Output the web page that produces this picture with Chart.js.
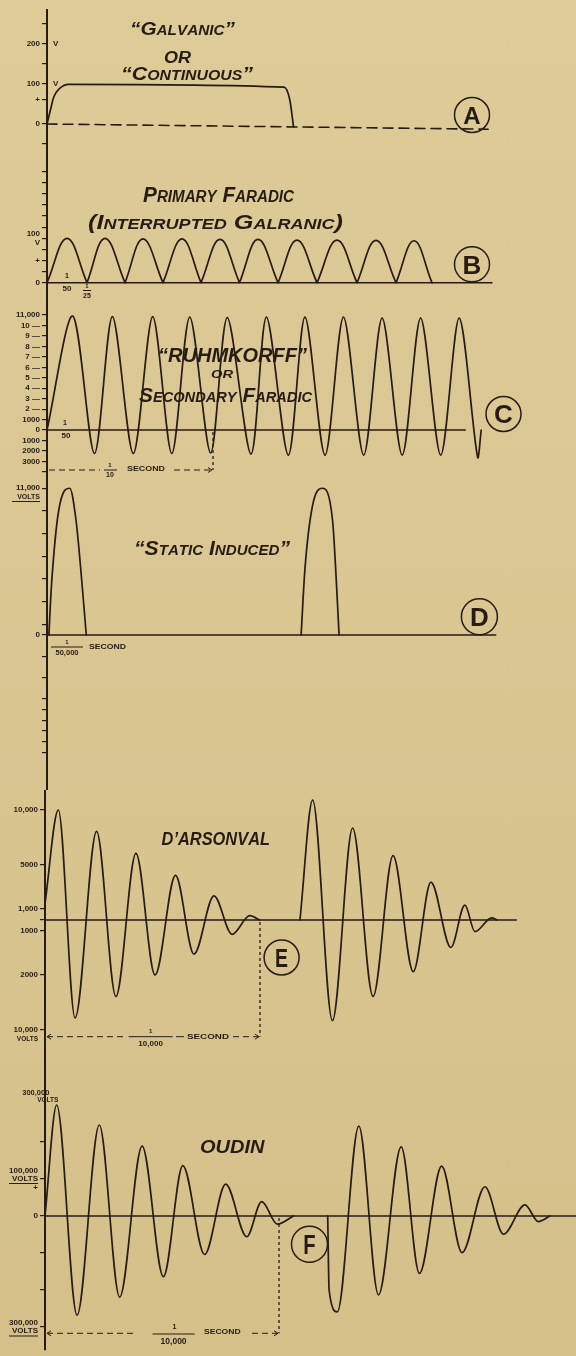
<!DOCTYPE html>
<html>
<head>
<meta charset="utf-8">
<title>Wave forms of medical currents</title>
<script src="https://cdn.jsdelivr.net/npm/chart.js@4.4.1/dist/chart.umd.min.js"></script>
<style>
  html, body { margin: 0; padding: 0; }
  body { background: linear-gradient(#ddcb98, #d5c08a); }
  #sheet { position: relative; width: 576px; height: 1356px; overflow: hidden; }
  #sheet canvas { position: absolute; left: 0; }
</style>
</head>
<body>
<div id="sheet"></div>
<script>
// A - galvanic / continuous current (arbitrary time units, volts)
const galvanicT = [0, 0.65, 1.3, 2.4, 4.1, 44.8, 45.9, 46.6];
const galvanicV = [0, 35, 68, 89, 99, 92, 60, -7];
const galvanicBaseT = [0, 83.4];
const galvanicBaseV = [0, -13];
const galvanicTicks = [-50, 0, 60, 100, 150, 200, 250];
const galvanicLabels = { 0: '0', 60: '+', 100: '100', 200: '200' };

// B - primary faradic, interrupted galvanic (ms, volts)
const faradicZeroT = [0, 40, 78, 116, 154, 192.5, 231, 270, 310, 349, 385];
const faradicPeakT = [20, 58, 96, 135, 173, 211, 250, 290, 329, 367];
const faradicPeakV = [100, 100, 98.5, 98.5, 97.5, 97.5, 96, 96, 95.5, 94.5];
const faradicBaseT = [0, 445];
const faradicTicks = [0, 25, 50, 75, 100, 125, 150, 175, 200, 225, 250];
const faradicLabels = { 0: '0', 50: '+', 100: ['100', 'V'] };

// C - Ruhmkorff coil, secondary faradic (ms, volts)
const ruhmPeakT = [15.5, 39.4, 63.7, 86.0, 108.6, 132.2, 155.4, 178.6, 201.9, 225.1, 248.3];
const ruhmPeakV = [10900, 10850, 10850, 10800, 10750, 10800, 10800, 10800, 10700, 10700, 10700];
const ruhmTroughT = [28.6, 52.0, 75.2, 98.6, 122.9, 145.4, 167.5, 190.8, 214.0, 237.2, 259.4];
const ruhmTroughV = [-2250, -2250, -2250, -2200, -2300, -2400, -2400, -2400, -2400, -2400, -2600];
const ruhmEndT = 261.6;
const ruhmBaseT = [0, 252];
const ruhmTicks = [-4000, -3000, -2000, -1000, 0, 1000, 2000, 3000, 4000, 5000, 6000, 7000, 8000, 9000, 10000, 11000];
const ruhmLabels = {
  11000: '11,000', 10000: '10 \u2014', 9000: '9 \u2014', 8000: '8 \u2014', 7000: '7 \u2014',
  6000: '6 \u2014', 5000: '5 \u2014', 4000: '4 \u2014', 3000: '3 \u2014', 2000: '2 \u2014',
  1000: '1000', 0: '0', '-1000': '1000', '-2000': '2000', '-3000': '3000'
};

// D - static induced (microseconds, volts)
const staticPulse1T = [1.0, 2.35, 6.3, 12.2, 15.5, 18.1, 21.0];
const staticPulse1V = [0, 3620, 9370, 11000, 8620, 4870, 0];
const staticPulse2T = [135.9, 137.9, 141.9, 147.2, 152.7, 154.6, 156.2];
const staticPulse2V = [0, 4870, 9620, 11000, 8620, 4370, 0];
const staticBaseT = [0, 240];
const staticTicks = [11000, 9300, 7600, 5900, 4200, 2500, 800, 0, -1600, -3200, -4800, -5600, -6400, -7200, -8000, -8800];
const staticLabels = { 11000: '11,000', 0: '0' };

// E - d'Arsonval high frequency (microseconds, volts)
const arsonval1T = [0, 6.2, 14.0, 24.0, 33.0, 42.3, 51.2, 60.7, 69.3, 78.6, 87.0, 95.3, 99.8];
const arsonval1V = [1500, 10000, -8900, 8050, -6950, 6050, -5000, 4050, -3100, 2200, -1300, 400, 0];
const arsonval2T = [118.6, 124.5, 133.7, 143.1, 152.6, 161.9, 171.3, 179.5, 188.8, 195.3, 200.0, 207.8, 210.1];
const arsonval2V = [0, 10900, -9150, 8350, -6950, 5850, -4700, 3450, -2500, 1350, -1050, 200, 0];
const arsonvalBaseT = [0, 219.3];
const arsonvalTicks = [10000, 5000, 1000, 0, -1000, -5000, -10000];
const arsonvalLabels = { 10000: '10,000', 5000: '5000', 1000: '1,000', '-1000': '1000', '-5000': '2000', '-10000': '10,000' };

// F - Oudin resonator (microseconds, volts)
const oudin1T = [0, 5.0, 13.7, 23.2, 31.9, 41.5, 50.6, 58.9, 68.2, 77.2, 86.2, 92.6, 99.3, 106.2];
const oudin1V = [0, 300000, -268000, 246000, -219000, 189000, -164000, 136000, -104000, 86000, -56000, 39000, -22000, 0];
const oudin2T = [120.8, 121.4, 124.9, 134.1, 142.5, 152.2, 160.0, 169.5, 178.2, 188.0, 195.9, 205.1, 210.8, 215.8];
const oudin2V = [0, -200000, -259000, 243000, -213000, 187000, -155000, 135000, -99000, 79000, -49000, 30000, -15000, 0];
const oudinBaseT = [0, 227];
const oudinTicks = [200000, 100000, 0, -100000, -200000, -300000];
const oudinLabels = { 100000: ['100,000', 'VOLTS', '+'], 0: '0', '-300000': ['300,000', 'VOLTS'] };

const INK = '#261c15';
const FACE = '"Liberation Sans", Arial, sans-serif';
const sheet = document.getElementById('sheet');

function points(ts, vs) {
  return ts.map((t, i) => ({ x: t, y: vs[i] }));
}

// one arch per pair of zeros; shared zeros are repeated so the joins stay sharp
function arches(zeros, peakT, peakV) {
  const pts = [];
  peakT.forEach((t, i) => {
    pts.push({ x: zeros[i], y: 0 }, { x: t, y: peakV[i] }, { x: zeros[i + 1], y: 0 });
  });
  return pts;
}

function alternate(peakT, peakV, troughT, troughV, endT) {
  const pts = [{ x: 0, y: 0 }];
  peakT.forEach((t, i) => {
    pts.push({ x: t, y: peakV[i] }, { x: troughT[i], y: troughV[i] });
  });
  pts.push({ x: endT, y: 0 });
  return pts;
}

function trace(data, extra) {
  return Object.assign({
    data, borderColor: INK, borderWidth: 1.7, pointRadius: 0, fill: false,
    tension: 0.4, borderJoinStyle: 'round', borderCapStyle: 'round'
  }, extra);
}

function baseline(ts, vs, extra) {
  return trace(points(ts, vs || ts.map(() => 0)), Object.assign({ tension: 0, borderWidth: 1.4 }, extra));
}

// ---- lettering helpers
function drawCaps(ctx, n, y) {
  const parts = [];
  let natural = 0;
  for (const ch of n.text) {
    const lower = ch !== ch.toUpperCase();
    const size = lower ? (n.small || n.size) : n.size;
    ctx.font = `italic bold ${size}px ${FACE}`;
    const w = ctx.measureText(ch.toUpperCase()).width;
    parts.push({ ch: ch.toUpperCase(), size, w });
    natural += w;
  }
  const sx = n.w ? n.w / natural : 1;
  ctx.save();
  ctx.translate(n.x, y);
  ctx.scale(sx, 1);
  ctx.textBaseline = 'alphabetic';
  ctx.textAlign = 'left';
  let cx = 0;
  for (const p of parts) {
    ctx.font = `italic bold ${p.size}px ${FACE}`;
    ctx.fillText(p.ch, cx, 0);
    cx += p.w;
  }
  ctx.restore();
}

function drawText(ctx, n, y) {
  ctx.font = `bold ${n.size}px ${FACE}`;
  const natural = ctx.measureText(n.text).width;
  const sx = n.w ? n.w / natural : 1;
  const width = natural * sx;
  let x0 = n.x;
  if (n.align === 'center') x0 -= width / 2;
  else if (n.align === 'right') x0 -= width;
  ctx.save();
  ctx.translate(x0, y);
  ctx.scale(sx, 1);
  ctx.textBaseline = 'middle';
  ctx.textAlign = 'left';
  ctx.fillText(n.text, 0, 0);
  ctx.restore();
}

function seg(ctx, x0, y0, x1, y1) {
  ctx.beginPath();
  ctx.moveTo(x0, y0);
  ctx.lineTo(x1, y1);
  ctx.stroke();
}

function arrow(ctx, x, y, dir) {
  ctx.setLineDash([]);
  ctx.beginPath();
  ctx.moveTo(x - 4 * dir, y - 2.5);
  ctx.lineTo(x, y);
  ctx.lineTo(x - 4 * dir, y + 2.5);
  ctx.stroke();
}

function notes(items) {
  return {
    id: 'notes',
    afterDraw(chart) {
      const { ctx } = chart;
      const xs = chart.scales.x, ys = chart.scales.y;
      ctx.save();
      ctx.fillStyle = INK;
      ctx.strokeStyle = INK;
      for (const n of items) {
        const y = n.yv !== undefined ? ys.getPixelForValue(n.yv) + (n.dy || 0) : n.y;
        if (n.k === 'caps') {
          drawCaps(ctx, n, y);
        } else if (n.k === 'txt') {
          drawText(ctx, n, y);
        } else if (n.k === 'line') {
          ctx.lineWidth = 1;
          ctx.setLineDash([]);
          seg(ctx, n.x0, y, n.x1, y);
        } else if (n.k === 'dim') {
          const a = xs.getPixelForValue(n.t0) + 2;
          const b = xs.getPixelForValue(n.t1) - 1;
          ctx.lineWidth = 1;
          ctx.setLineDash([6, 4]);
          seg(ctx, a, y, n.cut[0], y);
          seg(ctx, n.cut[1], y, b, y);
          arrow(ctx, b, y, 1);
          if (n.both) arrow(ctx, a, y, -1);
        } else if (n.k === 'drop') {
          const x = xs.getPixelForValue(n.t);
          ctx.lineWidth = 1.3;
          ctx.setLineDash([3, 3]);
          seg(ctx, x, ys.getPixelForValue(0) + 2, x, y);
          ctx.setLineDash([]);
        } else if (n.k === 'ring') {
          ctx.lineWidth = 1.5;
          ctx.setLineDash([]);
          ctx.beginPath();
          ctx.arc(n.x, n.y, n.r, 0, Math.PI * 2);
          ctx.stroke();
          ctx.font = `bold ${n.size}px ${FACE}`;
          const w = ctx.measureText(n.letter).width;
          const sx = n.sx || 1;
          ctx.save();
          ctx.translate(n.x - w * sx / 2, n.y + n.size * 0.36);
          ctx.scale(sx, 1);
          ctx.textBaseline = 'alphabetic';
          ctx.textAlign = 'left';
          ctx.fillText(n.letter, 0, 0);
          ctx.restore();
        }
      }
      ctx.restore();
    }
  };
}

function panel(p) {
  const canvas = document.createElement('canvas');
  canvas.width = 576;
  canvas.height = p.height;
  canvas.style.top = p.top + 'px';
  canvas.style.width = '576px';
  canvas.style.height = p.height + 'px';
  sheet.appendChild(canvas);
  const padTop = p.padTop || 0, padBottom = p.padBottom || 0;
  return new Chart(canvas, {
    type: 'line',
    data: { datasets: p.datasets },
    options: {
      responsive: false,
      animation: false,
      layout: { padding: { top: padTop, bottom: padBottom, left: 0, right: 0 } },
      plugins: { legend: { display: false }, tooltip: { enabled: false } },
      scales: {
        x: { type: 'linear', display: false, min: 0, max: p.xMax },
        y: {
          type: 'linear',
          min: -(p.height - padBottom - p.zero) / p.perUnit,
          max: (p.zero - padTop) / p.perUnit,
          afterFit: s => { s.width = p.left; s.paddingTop = 0; s.paddingBottom = 0; },
          afterBuildTicks: s => { s.ticks = p.ticks.map(v => ({ value: v })); },
          border: { color: INK, width: 2 },
          grid: { drawOnChartArea: false, color: INK, tickLength: 5, lineWidth: 1.2 },
          ticks: {
            autoSkip: false, padding: 2, color: INK,
            font: { family: FACE, size: 8, weight: 'bold', lineHeight: 1.05 },
            callback: v => (p.labels[v] !== undefined ? p.labels[v] : '')
          }
        }
      }
    },
    plugins: [notes(p.notes)]
  });
}

// A
panel({
  top: 0, height: 160, padTop: 10, left: 47, zero: 124, perUnit: 0.4, xMax: 100,
  ticks: galvanicTicks, labels: galvanicLabels,
  datasets: [
    trace(points(galvanicT, galvanicV), { cubicInterpolationMode: 'monotone' }),
    baseline(galvanicBaseT, galvanicBaseV, { borderDash: [10, 6], borderWidth: 1.6 })
  ],
  notes: [
    { k: 'caps', text: '\u201cGalvanic\u201d', x: 130, y: 35, w: 105, size: 19, small: 14 },
    { k: 'caps', text: 'OR', x: 164, y: 62.5, w: 27, size: 16 },
    { k: 'caps', text: '\u201cContinuous\u201d', x: 121, y: 80, w: 132, size: 19, small: 14 },
    { k: 'txt', text: 'V', x: 53, yv: 200, size: 8 },
    { k: 'txt', text: 'V', x: 53, yv: 100, size: 8 },
    { k: 'ring', x: 472, y: 115, r: 17.5, letter: 'A', size: 24 }
  ]
});

// B
panel({
  top: 160, height: 143, left: 47, zero: 122.7, perUnit: 0.444, xMax: 529,
  ticks: faradicTicks, labels: faradicLabels,
  datasets: [
    trace(arches(faradicZeroT, faradicPeakT, faradicPeakV), { tension: 0.4 }),
    baseline(faradicBaseT)
  ],
  notes: [
    { k: 'caps', text: 'Primary Faradic', x: 143, y: 42.3, w: 151, size: 22, small: 16 },
    { k: 'caps', text: '(Interrupted Galranic)', x: 88, y: 69.3, w: 255, size: 21, small: 15 },
    { k: 'txt', text: '1', x: 67, y: 116, size: 7, align: 'center' },
    { k: 'txt', text: '50', x: 67, y: 128.5, size: 8, align: 'center' },
    { k: 'txt', text: '1', x: 87, y: 126.5, size: 6, align: 'center' },
    { k: 'line', x0: 83, x1: 91, y: 130.5 },
    { k: 'txt', text: '25', x: 87, y: 136, size: 7, align: 'center' },
    { k: 'ring', x: 472, y: 104.3, r: 17.5, letter: 'B', size: 26 }
  ]
});

// C
panel({
  top: 303, height: 179, left: 47, zero: 127, perUnit: 0.01045, xMax: 318.7,
  ticks: ruhmTicks, labels: ruhmLabels,
  datasets: [
    trace(alternate(ruhmPeakT, ruhmPeakV, ruhmTroughT, ruhmTroughV, ruhmEndT), { tension: 0.3 }),
    baseline(ruhmBaseT)
  ],
  notes: [
    { k: 'caps', text: '\u201cRUHMKORFF\u201d', x: 158, y: 58.7, w: 149, size: 20 },
    { k: 'caps', text: 'OR', x: 211, y: 75.3, w: 22, size: 11 },
    { k: 'caps', text: 'Secondary Faradic', x: 139, y: 98.7, w: 173, size: 20, small: 14 },
    { k: 'txt', text: '1', x: 65, y: 120.5, size: 7, align: 'center' },
    { k: 'txt', text: '50', x: 66, y: 133, size: 8, align: 'center' },
    { k: 'dim', t0: 0, t1: 100, y: 167, cut: [100, 174] },
    { k: 'txt', text: '1', x: 110, y: 162.5, size: 6, align: 'center' },
    { k: 'line', x0: 104, x1: 117, y: 167 },
    { k: 'txt', text: '10', x: 110, y: 172.5, size: 7, align: 'center' },
    { k: 'txt', text: 'SECOND', x: 127, y: 166.5, size: 6.5, w: 38 },
    { k: 'drop', t: 100, y: 167 },
    { k: 'ring', x: 503.5, y: 111, r: 17.5, letter: 'C', size: 26 }
  ]
});

// D
panel({
  top: 482, height: 308, left: 47, zero: 153, perUnit: 0.01334, xMax: 282.9,
  ticks: staticTicks, labels: staticLabels,
  datasets: [
    trace(points(staticPulse1T, staticPulse1V), { cubicInterpolationMode: 'monotone' }),
    trace(points(staticPulse2T, staticPulse2V), { cubicInterpolationMode: 'monotone' }),
    baseline(staticBaseT)
  ],
  notes: [
    { k: 'caps', text: '\u201cStatic Induced\u201d', x: 134, y: 73, w: 156, size: 21, small: 15 },
    { k: 'txt', text: 'VOLTS', x: 40, y: 14.7, size: 7, align: 'right' },
    { k: 'line', x0: 12, x1: 40, y: 19.5 },
    { k: 'txt', text: '1', x: 67, y: 160.5, size: 6, align: 'center' },
    { k: 'line', x0: 51, x1: 83, y: 165 },
    { k: 'txt', text: '50,000', x: 67, y: 170.7, size: 7.5, align: 'center' },
    { k: 'txt', text: 'SECOND', x: 89, y: 165.3, size: 7, w: 37 },
    { k: 'ring', x: 479.4, y: 134.7, r: 18, letter: 'D', size: 26 }
  ]
});

// E
panel({
  top: 790, height: 260, left: 45, zero: 130, perUnit: 0.011, xMax: 247,
  ticks: arsonvalTicks, labels: arsonvalLabels,
  datasets: [
    trace(points(arsonval1T, arsonval1V), { cubicInterpolationMode: 'monotone' }),
    trace(points(arsonval2T, arsonval2V), { cubicInterpolationMode: 'monotone' }),
    baseline(arsonvalBaseT)
  ],
  notes: [
    { k: 'caps', text: 'D\u2019ARSONVAL', x: 161.6, y: 55, w: 108.4, size: 19 },
    { k: 'txt', text: 'VOLTS', x: 38, y: 249.3, size: 6.5, align: 'right' },
    { k: 'dim', t0: 0, t1: 100, y: 246.7, cut: [127, 233], both: true },
    { k: 'txt', text: '1', x: 150.6, y: 241, size: 6, align: 'center' },
    { k: 'line', x0: 128.6, x1: 172.7, y: 246.7 },
    { k: 'line', x0: 176, x1: 184, y: 246.7 },
    { k: 'txt', text: '10,000', x: 150.6, y: 254, size: 8, align: 'center' },
    { k: 'txt', text: 'SECOND', x: 187, y: 247, size: 8, w: 42 },
    { k: 'drop', t: 100, y: 246.7 },
    { k: 'ring', x: 281.6, y: 167.5, r: 17.5, letter: 'E', size: 26, sx: 0.75 }
  ]
});

// F
panel({
  top: 1050, height: 306, padBottom: 6, left: 45, zero: 166, perUnit: 0.00037, xMax: 226.9,
  ticks: oudinTicks, labels: oudinLabels,
  datasets: [
    trace(points(oudin1T, oudin1V), { cubicInterpolationMode: 'monotone' }),
    trace(points(oudin2T, oudin2V), { cubicInterpolationMode: 'monotone' }),
    baseline(oudinBaseT)
  ],
  notes: [
    { k: 'caps', text: 'OUDIN', x: 200, y: 103.3, w: 64.5, size: 19 },
    { k: 'txt', text: '300,000', x: 35.8, y: 43.3, size: 7.5, align: 'center' },
    { k: 'txt', text: 'VOLTS', x: 47.8, y: 50.7, size: 6.5, align: 'center' },
    { k: 'line', yv: 100000, dy: 4.5, x0: 9, x1: 38 },
    { k: 'line', yv: -300000, dy: 9, x0: 9, x1: 38 },
    { k: 'dim', t0: 0, t1: 100, y: 283.3, cut: [137, 252], both: true },
    { k: 'txt', text: '1', x: 174.5, y: 276.7, size: 7, align: 'center' },
    { k: 'line', x0: 152.5, x1: 194.7, y: 284 },
    { k: 'txt', text: '10,000', x: 173.6, y: 291.7, size: 8.5, align: 'center' },
    { k: 'txt', text: 'SECOND', x: 204, y: 281.7, size: 7.5, w: 36.6 },
    { k: 'drop', t: 100, y: 283.3 },
    { k: 'ring', x: 309.5, y: 194.3, r: 18, letter: 'F', size: 27, sx: 0.75 }
  ]
});
</script>
</body>
</html>
